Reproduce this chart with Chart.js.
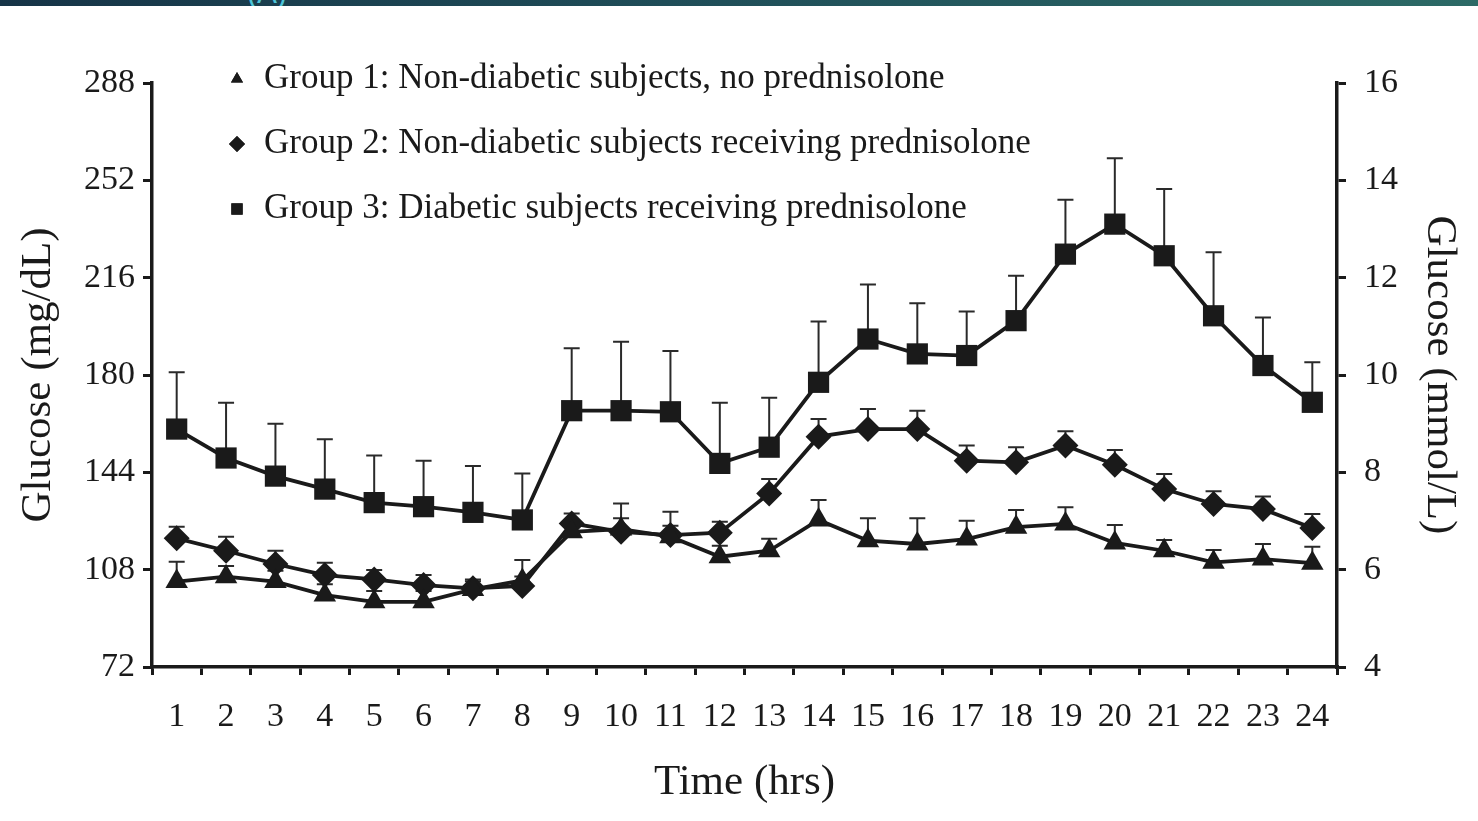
<!DOCTYPE html>
<html lang="en">
<head>
  <meta charset="UTF-8">
  <title>Glucose over 24 hours</title>
  <script src="https://cdn.jsdelivr.net/npm/chart.js"></script>
  <style>
    body { margin: 0; background: #fff; overflow: hidden; }
    .topbar {
      position: absolute; left: 0; top: 0; width: 1478px; height: 6px; overflow: hidden;
      background: linear-gradient(90deg, #163447 0%, #1f4d58 45%, #2c6a66 100%);
    }
    .topbar span {
      position: absolute; left: 247px; top: -24px;
      font: 30px 'Liberation Sans', sans-serif; color: #4cc4d8;
    }
    #wrap { position: absolute; left: 0; top: 0; width: 1478px; height: 821px; }
  </style>
</head>
<body>
  <div id="wrap"><canvas id="glucoseChart" width="1478" height="821"></canvas></div>
  <div class="topbar"><span>(A)</span></div>

  <script>
    // hours on the x axis
    const hours = ['1', '2', '3', '4', '5', '6', '7', '8', '9', '10', '11', '12',
                   '13', '14', '15', '16', '17', '18', '19', '20', '21', '22', '23', '24'];

    const groupLabels = [
      'Group 1: Non-diabetic subjects, no prednisolone',
      'Group 2: Non-diabetic subjects receiving prednisolone',
      'Group 3: Diabetic subjects receiving prednisolone'
    ];

    // mean glucose, mg/dL
    const group1 = [103.6, 105.4, 103.6, 98.6, 96.1, 96.1, 100.7, 104.0, 122.0, 123.0, 120.2, 112.8,
                    115.0, 126.4, 118.7, 117.5, 119.3, 123.7, 124.9, 117.9, 115.0, 110.7, 111.9, 110.4];
    const group2 = [119.6, 115.0, 110.1, 106.0, 104.4, 102.3, 101.1, 102.0, 125.1, 122.0, 120.8, 121.7,
                    136.2, 157.2, 160.0, 160.0, 148.3, 147.7, 153.9, 146.8, 137.8, 132.3, 130.4, 123.4];
    const group3 = [160.0, 149.3, 142.6, 137.8, 132.8, 131.3, 129.2, 126.4, 166.8, 166.8, 166.4, 147.3,
                    153.3, 177.3, 193.3, 187.8, 187.2, 200.1, 224.7, 235.8, 224.1, 201.9, 183.5, 169.9];

    // upper error bars (SD), mg/dL
    const err1 = [7.3, 4, 4, 4, 4, 4, 3, 7.6, 4, 4, 4, 4,
                  4.4, 7.4, 8.3, 9.5, 6.8, 6.4, 6.2, 6.6, 4, 4.6, 5.6, 6.1];
    const err2 = [4.3, 5.2, 4.9, 4.6, 3.5, 3.7, 3.3, 3.5, 3.7, 10.5, 8.6, 4,
                  5.3, 6.5, 7.4, 6.8, 5.6, 5.6, 5.3, 5.5, 5.6, 4.7, 4.7, 5.2];
    const err3 = [21, 20.4, 19.4, 18.4, 17.4, 17, 17.1, 17.2, 23.1, 25.5, 22.5, 22.4,
                  18.3, 22.5, 20.2, 18.7, 16.3, 16.6, 20.1, 24.4, 24.7, 23.5, 17.8, 14.8];

    const errors = [err1, err2, err3];
    const INK = '#1a1a1a';
    const SERIF = "'Liberation Serif', 'Times New Roman', serif";

    Chart.defaults.font.family = SERIF;
    Chart.defaults.color = INK;

    // draws the upward SD whiskers behind the markers
    const errorBars = {
      id: 'errorBars',
      beforeDatasetsDraw(chart) {
        const ctx = chart.ctx;
        const y = chart.scales.y;
        ctx.save();
        ctx.strokeStyle = '#2a2a2a';
        ctx.lineWidth = 2;
        chart.data.datasets.forEach((ds, i) => {
          const meta = chart.getDatasetMeta(i);
          meta.data.forEach((pt, j) => {
            const top = y.getPixelForValue(ds.data[j] + errors[i][j]);
            ctx.beginPath();
            ctx.moveTo(pt.x, pt.y);
            ctx.lineTo(pt.x, top);
            ctx.moveTo(pt.x - 8, top);
            ctx.lineTo(pt.x + 8, top);
            ctx.stroke();
          });
        });
        ctx.restore();
      }
    };

    // legend stacked in the top-left of the plot
    const innerLegend = {
      id: 'innerLegend',
      afterDraw(chart) {
        const ctx = chart.ctx;
        const sizes = [7, 8, 8];
        ctx.save();
        ctx.font = '35px ' + SERIF;
        ctx.textBaseline = 'middle';
        ctx.fillStyle = INK;
        chart.data.datasets.forEach((ds, i) => {
          const rowY = 79 + i * 65;
          Chart.helpers.drawPoint(ctx, {
            pointStyle: ds.pointStyle, radius: sizes[i], rotation: 0, borderWidth: 0
          }, 237, rowY);
          ctx.fillStyle = INK;
          ctx.fill();
          ctx.fillText(ds.label, 264, rowY);
        });
        ctx.restore();
      }
    };

    function series(label, values, style, radius) {
      return {
        label: label,
        data: values,
        borderColor: INK,
        borderWidth: 3.8,
        backgroundColor: INK,
        pointStyle: style,
        pointRadius: radius,
        pointHoverRadius: radius,
        pointBorderWidth: 0,
        pointBackgroundColor: INK,
        tension: 0,
        clip: false
      };
    }

    const ctx = document.getElementById('glucoseChart').getContext('2d');
    new Chart(ctx, {
      type: 'line',
      data: {
        labels: hours,
        datasets: [
          series(groupLabels[0], group1, 'triangle', 13),
          series(groupLabels[1], group2, 'rectRot', 13),
          series(groupLabels[2], group3, 'rect', 15)
        ]
      },
      options: {
        responsive: false,
        animation: false,
        layout: { padding: { top: 83, left: 0, right: 0, bottom: 0 } },
        plugins: {
          legend: { display: false },
          tooltip: { enabled: false }
        },
        scales: {
          x: {
            type: 'category',
            offset: true,
            grid: { offset: true, drawOnChartArea: false, drawTicks: true, tickLength: 8, tickColor: INK, lineWidth: 3 },
            border: { display: true, color: INK, width: 3.5 },
            ticks: { font: { size: 34 }, color: INK, padding: 22, maxRotation: 0, autoSkip: false },
            title: { display: true, text: 'Time (hrs)', font: { size: 43 }, color: INK, padding: { top: 0, bottom: 12 } },
            afterFit(scale) { scale.height = 154; }
          },
          y: {
            position: 'left',
            min: 72,
            max: 288,
            ticks: { stepSize: 36, font: { size: 34 }, color: INK, padding: 8 },
            grid: { drawOnChartArea: false, drawTicks: true, tickLength: 9, tickColor: INK, lineWidth: 3 },
            border: { display: true, color: INK, width: 3.5 },
            title: { display: true, text: 'Glucose (mg/dL)', font: { size: 43 }, color: INK, padding: { top: 13, bottom: 0 } },
            afterFit(scale) { scale.width = 152; }
          },
          y2: {
            position: 'right',
            min: 4,
            max: 16,
            ticks: { stepSize: 2, font: { size: 34 }, color: INK, padding: 18 },
            grid: { drawOnChartArea: false, drawTicks: true, tickLength: 9, tickColor: INK, lineWidth: 3 },
            border: { display: true, color: INK, width: 3.5 },
            title: { display: true, text: 'Glucose (mmol/L)', font: { size: 43 }, color: INK, padding: { top: 13, bottom: 0 } },
            afterFit(scale) { scale.width = 141; }
          }
        }
      },
      plugins: [errorBars, innerLegend]
    });
  </script>
</body>
</html>
